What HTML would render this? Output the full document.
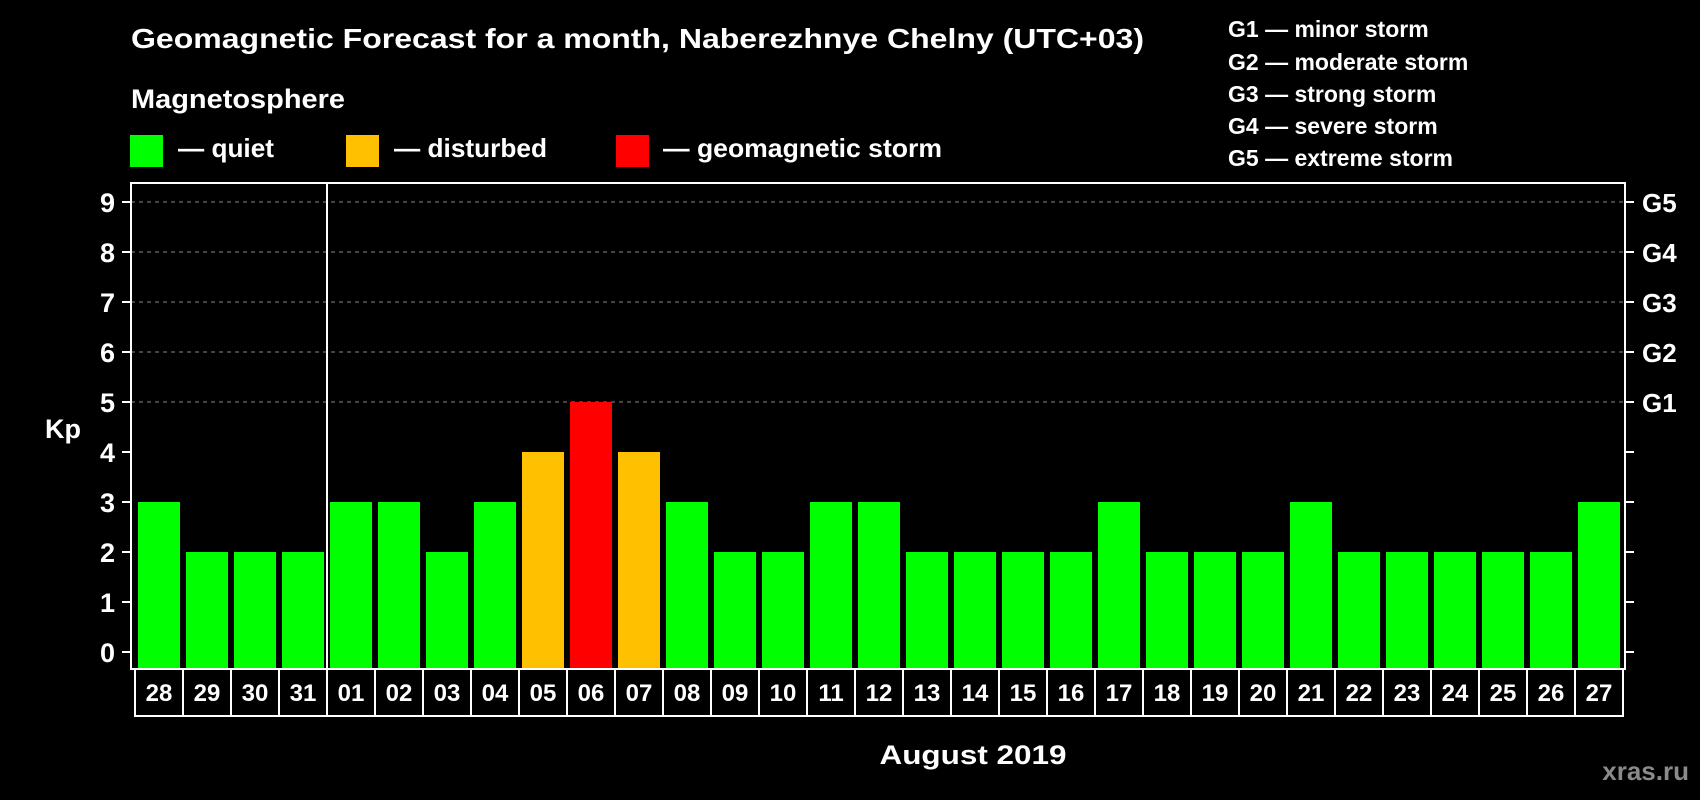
<!DOCTYPE html>
<html><head><meta charset="utf-8"><style>
html,body{margin:0;padding:0;background:#000;}
svg{display:block;font-family:"Liberation Sans",Arial,sans-serif;font-weight:bold;}
</style></head><body>
<svg id="chart" width="1700" height="800" viewBox="0 0 1700 800">
<rect x="0" y="0" width="1700" height="800" fill="#000"/>
<text x="131" y="48" font-size="28" fill="#fff" textLength="1013" lengthAdjust="spacingAndGlyphs">Geomagnetic Forecast for a month, Naberezhnye Chelny (UTC+03)</text>
<text x="131" y="108" font-size="27" fill="#fff" textLength="214" lengthAdjust="spacingAndGlyphs">Magnetosphere</text>
<g>
<rect x="130" y="135" width="33" height="32" fill="#00ff00"/>
<text x="178" y="157" font-size="26" fill="#fff" textLength="96" lengthAdjust="spacingAndGlyphs">— quiet</text></g>
<g>
<rect x="346" y="135" width="33" height="32" fill="#ffc000"/>
<text x="394" y="157" font-size="26" fill="#fff" textLength="153" lengthAdjust="spacingAndGlyphs">— disturbed</text></g>
<g>
<rect x="616" y="135" width="33" height="32" fill="#ff0000"/>
<text x="663" y="157" font-size="26" fill="#fff" textLength="279" lengthAdjust="spacingAndGlyphs">— geomagnetic storm</text></g>
<g font-size="23" fill="#fff">
<text x="1228" y="37">G1 — minor storm</text>
<text x="1228" y="70">G2 — moderate storm</text>
<text x="1228" y="102">G3 — strong storm</text>
<text x="1228" y="134">G4 — severe storm</text>
<text x="1228" y="166">G5 — extreme storm</text>
</g>
<g id="grid"></g>
<g id="bars"></g>
<g id="axes"></g>
<text x="63" y="438" font-size="27" fill="#fff" text-anchor="middle">Kp</text>
<text x="973" y="764" font-size="27" fill="#fff" text-anchor="middle" textLength="187" lengthAdjust="spacingAndGlyphs">August 2019</text>
<text x="1689" y="780" font-size="26" fill="#8a8a8a" text-anchor="end">xras.ru</text>
</svg>
<script>
const days = ["28","29","30","31","01","02","03","04","05","06","07","08","09","10","11","12","13","14","15","16","17","18","19","20","21","22","23","24","25","26","27"];
const kpValues = [3,2,2,2,3,3,2,3,4,5,4,3,2,2,3,3,2,2,2,2,3,2,2,2,3,2,2,2,2,2,3];
const yTicks = [0,1,2,3,4,5,6,7,8,9];
const gLabels = ["G1","G2","G3","G4","G5"];
const gLevels = [5,6,7,8,9];
const monthBoundaryIndex = 4;

const NS = "http://www.w3.org/2000/svg";
const plotL = 131, plotR = 1625, plotT = 183, plotB = 669;
const y0 = 652, unit = 50;
const slotStart = 135, slotW = 48;
function yScale(v){ return y0 - v*unit; }
function xScale(i){ return slotStart + i*slotW; }
function mk(tag, attrs, parent){
  const e = document.createElementNS(NS, tag);
  for (const k in attrs) e.setAttribute(k, attrs[k]);
  parent.appendChild(e); return e;
}
function colorFor(v){ return v >= 5 ? "#ff0000" : (v >= 4 ? "#ffc000" : "#00ff00"); }

const grid = document.getElementById("grid");
const bars = document.getElementById("bars");
const axes = document.getElementById("axes");

gLevels.forEach((lv, i) => {
  const y = yScale(lv);
  const l = mk("line", {x1: plotL, x2: plotR, y1: y, y2: y, stroke: "#888", "stroke-width": 1, "stroke-dasharray": "4,4"}, grid);
  
  
  const t = mk("text", {x: 1642, y: y + 10, "font-size": 26, fill: "#fff"}, axes);
  t.textContent = gLabels[i];
  
  
});

kpValues.forEach((v, i) => {
  const r = mk("rect", {x: xScale(i) + 3, y: yScale(v), width: 42, height: plotB - 1 - yScale(v), fill: colorFor(v)}, bars);
  
  
});

mk("rect", {x: plotL, y: plotT, width: plotR - plotL, height: plotB - plotT, fill: "none", stroke: "#fff", "stroke-width": 2}, axes);


const sepX = xScale(monthBoundaryIndex);
const sep = mk("line", {x1: sepX, x2: sepX, y1: plotT, y2: 716, stroke: "#fff", "stroke-width": 2}, axes);



yTicks.forEach(v => {
  const y = yScale(v);
  const tl = mk("line", {x1: 122, x2: plotL, y1: y, y2: y, stroke: "#fff", "stroke-width": 2}, axes);
  
  
  const tr = mk("line", {x1: plotR, x2: 1634, y1: y, y2: y, stroke: "#fff", "stroke-width": 2}, axes);
  
  
  const t = mk("text", {x: 115, y: y + 10, "font-size": 27, fill: "#fff", "text-anchor": "end"}, axes);
  t.textContent = String(v);
  
  
});

days.forEach((d, i) => {
  const b = mk("rect", {x: xScale(i), y: 669, width: slotW, height: 47, fill: "none", stroke: "#fff", "stroke-width": 2}, axes);
  
  
  const t = mk("text", {x: xScale(i) + slotW/2, y: 701, "font-size": 24, fill: "#fff", "text-anchor": "middle"}, axes);
  t.textContent = d;
  
  
});
</script>
</body></html>
